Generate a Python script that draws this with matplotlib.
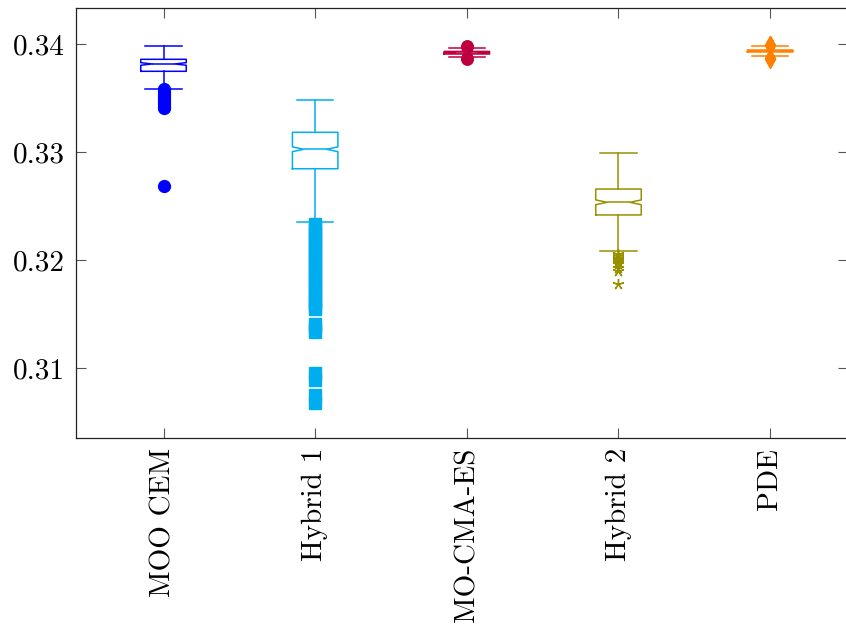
import matplotlib
matplotlib.use("Agg")
import matplotlib.pyplot as plt

# ---------------- data ----------------
categories = ["MOO CEM", "Hybrid 1", "MO-CMA-ES", "Hybrid 2", "PDE"]
colors = ["#0000FF", "#00AEEF", "#BF0040", "#999000", "#FF8000"]
markers = ["o", "s", "o", (5, 2, 0), "d"]
marker_sizes = [8.5, 8.5, 8.0, 8.0, 9.0]

whis_hi = [0.33981, 0.33479, 0.33960, 0.32991, 0.33984]
q3_vals = [0.33858, 0.33182, 0.33931, 0.32657, 0.33944]
medians = [0.33815, 0.33025, 0.33919, 0.32534, 0.33935]
q1_vals = [0.33747, 0.32845, 0.33907, 0.32417, 0.33926]
whis_lo = [0.33586, 0.32349, 0.33877, 0.32080, 0.33889]
ci_half = [0.00012, 0.00022, 0.00004, 0.00022, 0.00003]

fliers_moo_cem = [0.3358, 0.3356, 0.3354, 0.3352, 0.3350, 0.3348, 0.3346,
                  0.3344, 0.3342, 0.3341, 0.32685]
fliers_hybrid1 = [0.3233, 0.3229, 0.3225, 0.3221, 0.3217, 0.3213, 0.3209,
                  0.3205, 0.3201, 0.3197, 0.3193, 0.3189, 0.3185, 0.3181,
                  0.3177, 0.3173, 0.3169, 0.3165, 0.3161, 0.3157, 0.3155,
                  0.3141, 0.3137, 0.3133, 0.3095, 0.3089, 0.3075, 0.3068]
fliers_mocmaes = [0.33985, 0.33978, 0.33972, 0.33870, 0.33865, 0.33860]
fliers_hybrid2 = [0.3206, 0.3204, 0.3202, 0.3200, 0.3198, 0.3196, 0.3193,
                  0.3190, 0.3178]
fliers_pde = [0.33991, 0.33986, 0.33866, 0.33861]
fliers = [fliers_moo_cem, fliers_hybrid1, fliers_mocmaes, fliers_hybrid2,
          fliers_pde]

yticks = [0.31, 0.32, 0.33, 0.34]
ytick_labels = ["0.31", "0.32", "0.33", "0.34"]

# ---------------- figure ----------------
plt.rcParams["font.family"] = ["cmr10", "DejaVu Serif"]
plt.rcParams["axes.formatter.use_mathtext"] = True

fig = plt.figure(figsize=(8.46, 6.27), dpi=100)
ax = fig.add_axes([76 / 846, 1 - 438 / 627, (847.5 - 76) / 846, (438 - 8) / 627])

stats = []
for i, cat in enumerate(categories):
    stats.append(dict(label=cat, med=medians[i], q1=q1_vals[i], q3=q3_vals[i],
                      whislo=whis_lo[i], whishi=whis_hi[i], fliers=fliers[i],
                      cilo=medians[i] - ci_half[i], cihi=medians[i] + ci_half[i]))

positions = list(range(1, len(categories) + 1))
res = ax.bxp(stats, positions=positions, widths=0.3, capwidths=0.24,
             shownotches=True, patch_artist=False)

for i, c in enumerate(colors):
    res["boxes"][i].set_color(c)
    res["boxes"][i].set_linewidth(1.1)
    res["medians"][i].set_color(c)
    res["medians"][i].set_linewidth(1.1)
    for w in res["whiskers"][2 * i:2 * i + 2]:
        w.set_color(c)
        w.set_linewidth(1.1)
    for cp in res["caps"][2 * i:2 * i + 2]:
        cp.set_color(c)
        cp.set_linewidth(1.1)
    fl = res["fliers"][i]
    fl.set_marker(markers[i])
    fl.set_markersize(marker_sizes[i])
    fl.set_markerfacecolor(c)
    fl.set_markeredgecolor(c)
    fl.set_markeredgewidth(1.0)

ax.set_xlim(0.423, 5.51)
ax.set_ylim(0.30352, 0.34333)
ax.set_yticks(yticks)
ax.set_yticklabels(ytick_labels, fontsize=21)
ax.set_xticks(positions)
ax.set_xticklabels(categories, rotation=90, fontsize=21)

ax.tick_params(axis="both", which="both", direction="in", length=7.5,
               width=0.8, color="#555555", top=True, right=True)
ax.tick_params(axis="y", pad=8)
ax.tick_params(axis="x", pad=7)
for s in ax.spines.values():
    s.set_linewidth(0.9)
    s.set_color("#222222")

fig.savefig("out.png", dpi=100)
